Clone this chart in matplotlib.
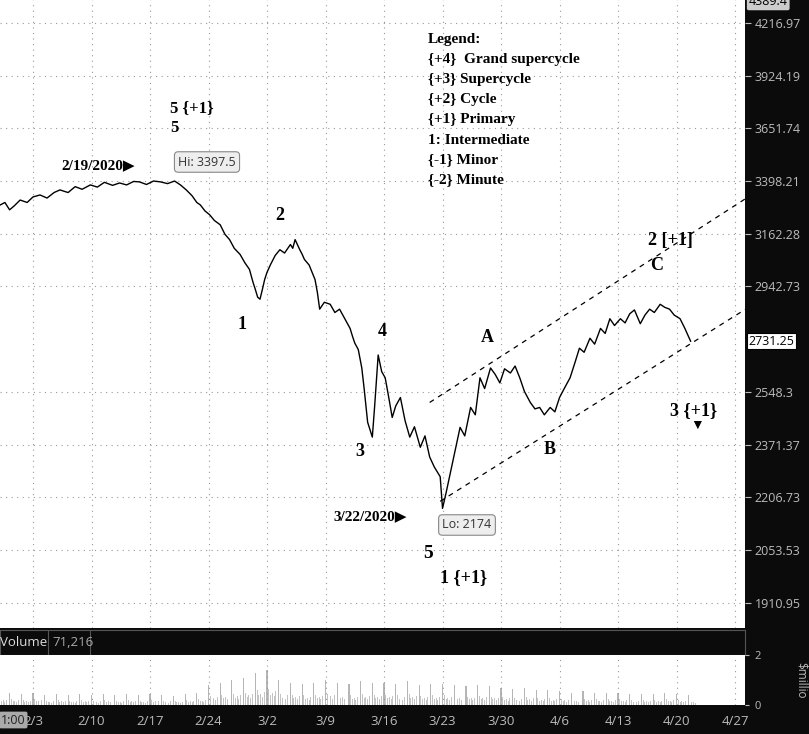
import matplotlib
matplotlib.use("Agg")
import matplotlib.pyplot as plt
import numpy as np

# trading-day index (0 = 2/3/2020) and price
days = [-2.8,-2.4,-2.0,-1.6,-1.1,-0.5,0.0,0.6,1.2,1.8,2.3,3.0,3.6,4.2,4.9,5.5,6.1,6.8,7.4,8.0,8.6,9.1,9.7,10.3,10.9,11.5,12.1,
        12.6,13.1,13.6,14.0,14.3,14.7,15.1,15.5,16.0,16.4,16.8,17.2,17.7,18.1,18.5,18.8,19.0,19.2,19.4,19.6,19.8,
        20.0,20.3,20.7,21.1,21.5,22.0,22.2,22.4,22.6,22.8,23.0,23.2,23.6,24.1,24.3,24.5,24.9,25.4,25.8,26.2,26.6,27.1,27.3,27.5,
        27.8,28.1,28.3,28.6,28.8,29.0,29.2,29.5,29.8,30.1,30.4,30.7,31.0,31.4,31.8,32.2,32.6,33.1,33.5,33.9,34.3,34.8,35.0,
        35.3,35.6,36.0,36.5,36.9,37.4,37.8,38.2,38.6,39.1,39.5,39.9,40.3,40.8,41.2,41.6,42.0,42.5,42.9,43.3,43.7,44.2,44.6,45.0,
        45.4,45.9,46.3,46.7,47.1,47.6,48.0,48.5,48.9,49.3,49.7,50.2,50.6,51.0,51.4,51.9,52.3,52.7,53.1,53.6,54.0,54.4,54.8,55.3,55.7,56.2]
price = [3289,3300,3267,3285,3311,3300,3325,3334,3320,3345,3357,3345,3372,3360,3380,3370,3392,3378,3389,3380,3396,3394,3382,3398,3394,3386,3398,
         3380,3357,3330,3300,3289,3262,3245,3220,3201,3160,3137,3100,3074,3040,3012,2960,2931,2900,2892,2930,2971,
         3000,3032,3070,3094,3080,3116,3100,3137,3115,3094,3075,3053,3030,2971,2920,2853,2880,2872,2840,2853,2820,2779,2750,2724,
         2700,2633,2560,2445,2420,2396,2500,2680,2620,2598,2530,2461,2500,2529,2450,2396,2430,2363,2400,2332,2300,2270,2174,
         2220,2270,2340,2428,2400,2495,2470,2598,2560,2633,2610,2580,2630,2615,2640,2598,2550,2512,2490,2495,2470,2495,2480,2529,
         2560,2598,2650,2705,2690,2742,2720,2779,2760,2816,2790,2816,2800,2835,2850,2797,2830,2853,2840,2872,2860,2853,2830,2816,2780,2731]
upper_ch_days = [33.9, 66.3]; upper_ch_price = [2512, 3507]
lower_ch_days = [34.8, 66.3]; lower_ch_price = [2195, 3012]
vol_days = list(range(-3, 57))
vol = [0.55,0.5,0.45,0.5,0.4,0.45,0.4,0.45,0.4,0.45,0.4,0.45,0.4,
       0.45,0.4,0.35,0.45,0.5,
       0.8,0.9,1.0,1.1,1.3, 1.4,1.0,0.9,0.85,0.9, 1.0,0.9,0.85,0.95,0.9,
       0.9,0.85,0.95,0.8,0.85, 0.85,0.8,0.75,0.8,0.75, 0.7,0.65,0.7,0.6,0.6,
       0.55,0.5,0.55,0.5,0.5, 0.5,0.45,0.45,0.45,0.5, 0.45,0.4]
price_ticks = [1910.95,2053.53,2206.73,2371.37,2548.3,2942.73,3162.28,3398.21,3651.74,3924.19,4216.97]
price_tick_labels = ["1910.95","2053.53","2206.73","2371.37","2548.3","2942.73","3162.28","3398.21","3651.74","3924.19","4216.97"]
week_ticks = list(range(0, 61, 5))
week_labels = ["2/3","2/10","2/17","2/24","3/2","3/9","3/16","3/23","3/30","4/6","4/13","4/20","4/27"]
last_price = 2731.25
legend_lines = ["Legend:", "{+4}  Grand supercycle", "{+3} Supercycle", "{+2} Cycle",
                "{+1} Primary", "1: Intermediate", "{-1} Minor", "{-2} Minute"]

ui = "Open Sans"
W, H = 809, 734
fig = plt.figure(figsize=(W/100, H/100), dpi=100, facecolor="#0b0b0b")
def fx(px): return px / W
def fy(py): return 1 - py / H

ax = fig.add_axes([0, fy(628), fx(745), 628/H])
ax.set_facecolor("white")
ax.set_yscale("log")
ax.set_xlim(-2.82, 60.85)
ax.set_ylim(1846.6, 4350)
ax.plot(days, price, color="black", lw=1.0)
ax.plot(upper_ch_days, upper_ch_price, color="black", lw=0.9, ls=(0, (4, 4)))
ax.plot(lower_ch_days, lower_ch_price, color="black", lw=0.9, ls=(0, (4, 4)))
ax.yaxis.tick_right()
ax.set_yticks(price_ticks)
ax.set_yticklabels(price_tick_labels, family=ui)
ax.yaxis.set_minor_locator(matplotlib.ticker.NullLocator())
ax.tick_params(axis="y", colors="#bbbbbb", labelsize=9, length=4, pad=3)
ax.set_xticks(week_ticks)
ax.tick_params(axis="x", length=0, labelbottom=False)
ax.grid(True, color="#999999", ls=(0, (1, 4)), lw=0.8)
for s in ax.spines.values():
    s.set_visible(False)
ax.text(1.005, np.log(last_price/1846.6)/np.log(4350/1846.6), f"{last_price}", transform=ax.transAxes,
        ha="left", va="center", fontsize=9, color="black", family=ui,
        bbox=dict(boxstyle="square,pad=0.15", fc="white", ec="black", lw=0.8))
ax.text(1.005, 0.997, "4389.4", transform=ax.transAxes, ha="left", va="center", fontsize=9, family=ui,
        color="black", bbox=dict(boxstyle="round,pad=0.15", fc="#cccccc", ec="none"))

def t(px, py, s, size=13, ha="left"):
    fig.text(fx(px), fy(py), s, ha=ha, va="center", fontsize=size,
             family=["Liberation Serif", "DejaVu Sans"], weight="bold", color="black")
t(170, 108, "5 {+1}", 12); t(170, 128, "5", 12)
t(135, 166, "2/19/2020\u25B6", 11, ha="right")
t(280, 215, "2", 13, "center"); t(242, 325, "1", 13, "center")
t(382, 332, "4", 13, "center"); t(360, 451, "3", 13, "center")
t(487, 338, "A", 13, "center"); t(550, 450, "B", 13, "center")
t(648, 241, "2 [+1]", 13); t(650, 265, "C", 13)
t(670, 411, "3 {+1}", 13); t(697, 425, "\u25BC", 10, "center")
t(407, 517, "3/22/2020\u25B6", 11, ha="right")
t(428, 553, "5", 14, "center"); t(440, 578, "1 {+1}", 13)
for i, line in enumerate(legend_lines):
    t(428, 40 + 20*i, line, 11)
for px, py, s in [(207, 162, "Hi: 3397.5"), (467, 525, "Lo: 2174")]:
    fig.text(fx(px), fy(py), s, ha="center", va="center", fontsize=9, color="#333333", family=ui,
             bbox=dict(boxstyle="round,pad=0.3", fc="#eeeeee", ec="#888888", lw=0.8))

hdr = fig.add_axes([0, fy(655), fx(745), 25/H])
hdr.set_facecolor("#0b0b0b"); hdr.set_xticks([]); hdr.set_yticks([])
for s in hdr.spines.values(): s.set_color("#555555")
hdr.text(0.0, 0.5, "Volume", color="#dddddd", fontsize=9.5, va="center", family=ui, transform=hdr.transAxes)
hdr.axvline(0.064, color="#555555", lw=0.8); hdr.axvline(0.121, color="#555555", lw=0.8)
hdr.text(0.07, 0.5, "71,216", color="#aaaaaa", fontsize=9.5, va="center", family=ui, transform=hdr.transAxes)

vax = fig.add_axes([0, fy(705), fx(745), 50/H])
vax.set_facecolor("white")
vax.set_xlim(-2.82, 60.85); vax.set_ylim(0, 2)
vax.bar(vol_days, vol, width=0.1, color="#b5b5b5")
for off, fr in [(0.15, 0.45), (0.3, 0.3), (0.45, 0.35), (0.6, 0.25), (0.75, 0.4)]:
    vax.bar([d + off for d in vol_days], [v*fr for v in vol], width=0.08, color="#c4c4c4")
vax.set_xticks(week_ticks); vax.set_xticklabels(week_labels, family=ui)
vax.tick_params(axis="x", colors="#bbbbbb", labelsize=9.5, length=0, pad=7)
vax.yaxis.tick_right(); vax.set_yticks([0, 2]); vax.set_yticklabels(["0", "2"], family=ui)
vax.tick_params(axis="y", colors="#bbbbbb", labelsize=8, length=3)
vax.grid(True, axis="x", color="#999999", ls=(0, (1, 4)), lw=0.8)
for s in vax.spines.values(): s.set_visible(False)
fig.text(fx(801), fy(680), "$millio", rotation=-90, color="#bbbbbb", fontsize=8.5, family=ui, ha="center", va="center")
fig.text(fx(1), fy(720), "1:00", color="#222222", fontsize=9, va="center", family=ui,
         bbox=dict(boxstyle="round,pad=0.15", fc="#aaaaaa", ec="none"))

fig.savefig("out.png", dpi=100, facecolor=fig.get_facecolor())
